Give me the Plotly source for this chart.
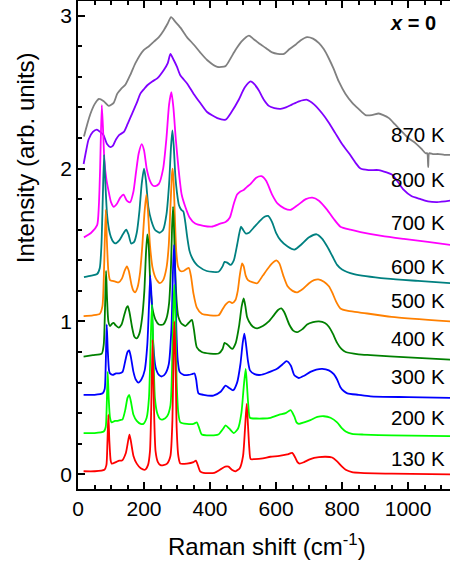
import plotly.graph_objects as go

# ---- data (Raman shift in cm-1, offset intensity) ----
temps = ["870 K", "800 K", "700 K", "600 K", "500 K", "400 K", "300 K", "200 K", "130 K"]
colors = ["#808080", "#8000ff", "#ff00ff", "#008080", "#ff8000", "#008000", "#0000ff", "#00ff00", "#ff0000"]

x_870 = [18, 28, 38, 50, 63, 78, 93, 108, 119, 130, 144, 160, 174, 199, 215, 230, 245, 260, 272, 282, 295, 311, 330, 351, 370, 391, 422, 447, 462, 477, 495, 518, 530, 548, 568, 588, 605, 624, 640, 659, 675, 694, 712, 730, 745, 760, 775, 790, 810, 831, 850, 871, 890, 911, 925, 942, 960, 982, 1000, 1023, 1040, 1053, 1058, 1061, 1064, 1075, 1093, 1110, 1128]
y_870 = [2.21, 2.29, 2.36, 2.42, 2.455, 2.44, 2.41, 2.43, 2.49, 2.52, 2.55, 2.62, 2.69, 2.775, 2.8, 2.83, 2.86, 2.905, 2.95, 2.99, 2.96, 2.92, 2.86, 2.81, 2.76, 2.71, 2.665, 2.67, 2.72, 2.775, 2.83, 2.87, 2.85, 2.82, 2.79, 2.76, 2.75, 2.75, 2.78, 2.81, 2.84, 2.86, 2.85, 2.82, 2.78, 2.72, 2.65, 2.57, 2.49, 2.43, 2.39, 2.35, 2.35, 2.36, 2.35, 2.33, 2.29, 2.24, 2.2, 2.165, 2.13, 2.1, 2.1, 2.01, 2.1, 2.095, 2.095, 2.09, 2.09]

x_800 = [17, 25, 32, 45, 57, 67, 77, 88, 98, 106, 115, 125, 139, 150, 164, 178, 189, 200, 210, 225, 240, 260, 272, 280, 290, 300, 310, 331, 350, 370, 391, 422, 447, 465, 487, 505, 523, 535, 548, 563, 578, 595, 614, 630, 649, 670, 694, 715, 740, 760, 780, 800, 821, 840, 856, 880, 911, 935, 952, 970, 987, 1010, 1038, 1060, 1088, 1128]
y_800 = [2.03, 2.12, 2.19, 2.24, 2.255, 2.24, 2.22, 2.16, 2.14, 2.15, 2.19, 2.22, 2.24, 2.29, 2.36, 2.43, 2.49, 2.52, 2.545, 2.57, 2.59, 2.645, 2.69, 2.75, 2.71, 2.665, 2.61, 2.555, 2.49, 2.43, 2.37, 2.33, 2.32, 2.37, 2.45, 2.53, 2.57, 2.55, 2.51, 2.45, 2.41, 2.395, 2.39, 2.40, 2.42, 2.44, 2.45, 2.42, 2.36, 2.3, 2.23, 2.16, 2.10, 2.04, 2.00, 1.99, 1.99, 1.975, 1.96, 1.91, 1.86, 1.82, 1.80, 1.785, 1.78, 1.79]

x_700 = [18, 40, 58, 63, 67, 72, 76, 80, 86, 92, 100, 108, 118, 128, 138, 148, 158, 168, 176, 184, 193, 200, 208, 218, 226, 234, 245, 258, 268, 276, 283, 289, 296, 305, 314, 325, 338, 355, 380, 405, 431, 447, 460, 472, 482, 492, 502, 512, 523, 540, 556, 570, 588, 605, 625, 644, 665, 690, 710, 730, 755, 775, 795, 825, 856, 920, 987, 1060, 1128]
y_700 = [1.55, 1.58, 1.63, 1.75, 2.0, 2.415, 2.25, 2.05, 1.93, 1.86, 1.78, 1.75, 1.77, 1.81, 1.83, 1.79, 1.78, 1.85, 1.98, 2.1, 2.16, 2.12, 2.0, 1.92, 1.89, 1.885, 1.9, 2.0, 2.2, 2.42, 2.50, 2.4, 2.2, 1.99, 1.83, 1.75, 1.68, 1.64, 1.625, 1.62, 1.64, 1.65, 1.68, 1.77, 1.83, 1.85, 1.86, 1.88, 1.90, 1.94, 1.95, 1.92, 1.83, 1.77, 1.74, 1.73, 1.76, 1.80, 1.81, 1.79, 1.73, 1.67, 1.62, 1.60, 1.585, 1.56, 1.54, 1.52, 1.50]

x_600 = [18, 40, 58, 66, 71, 75, 79, 83, 88, 94, 100, 107, 113, 125, 136, 146, 153, 161, 170, 178, 186, 193, 200, 206, 213, 222, 233, 247, 258, 268, 276, 282, 286, 290, 295, 300, 306, 313, 319, 325, 331, 338, 347, 356, 365, 390, 426, 438, 444, 452, 462, 472, 482, 489, 494, 500, 508, 518, 535, 552, 565, 576, 588, 600, 614, 635, 656, 675, 700, 723, 740, 755, 770, 785, 800, 836, 937, 1030, 1128]
y_600 = [1.29, 1.30, 1.31, 1.35, 1.5, 1.8, 2.09, 1.9, 1.7, 1.6, 1.55, 1.52, 1.51, 1.53, 1.57, 1.60, 1.57, 1.51, 1.52, 1.58, 1.72, 1.9, 2.0, 1.92, 1.75, 1.66, 1.6, 1.58, 1.6, 1.7, 1.9, 2.15, 2.25, 2.15, 1.95, 1.84, 1.76, 1.73, 1.72, 1.65, 1.55, 1.46, 1.41, 1.38, 1.36, 1.33, 1.325, 1.36, 1.39, 1.385, 1.37, 1.4, 1.5, 1.58, 1.62, 1.6, 1.575, 1.58, 1.62, 1.66, 1.685, 1.69, 1.65, 1.58, 1.53, 1.49, 1.47, 1.5, 1.55, 1.57, 1.54, 1.49, 1.43, 1.37, 1.34, 1.31, 1.28, 1.265, 1.25]

x_500 = [17, 45, 66, 74, 79, 84, 88, 92, 97, 105, 113, 123, 133, 141, 148, 154, 162, 168, 173, 180, 188, 195, 201, 207, 212, 218, 226, 236, 248, 258, 268, 275, 280, 285, 287, 290, 294, 298, 303, 310, 320, 330, 336, 342, 350, 360, 375, 400, 426, 438, 447, 458, 467, 477, 484, 490, 497, 502, 508, 515, 530, 543, 560, 573, 588, 601, 610, 622, 635, 650, 664, 680, 700, 715, 728, 745, 760, 770, 782, 795, 815, 851, 950, 1128]
y_500 = [1.035, 1.04, 1.05, 1.1, 1.35, 1.73, 1.5, 1.33, 1.27, 1.265, 1.26, 1.255, 1.28, 1.33, 1.36, 1.33, 1.24, 1.2, 1.19, 1.22, 1.32, 1.5, 1.7, 1.83, 1.72, 1.5, 1.35, 1.28, 1.25, 1.27, 1.35, 1.5, 1.75, 1.97, 2.0, 1.9, 1.65, 1.45, 1.36, 1.33, 1.33, 1.345, 1.35, 1.3, 1.18, 1.09, 1.05, 1.04, 1.04, 1.08, 1.11, 1.13, 1.12, 1.14, 1.2, 1.3, 1.38, 1.36, 1.3, 1.27, 1.255, 1.25, 1.3, 1.34, 1.38, 1.40, 1.38, 1.3, 1.23, 1.2, 1.19, 1.21, 1.25, 1.27, 1.275, 1.26, 1.23, 1.19, 1.13, 1.085, 1.07, 1.06, 1.03, 1.0]

x_400 = [17, 45, 72, 78, 82, 85, 88, 92, 97, 103, 108, 114, 123, 132, 140, 147, 151, 156, 164, 171, 178, 186, 194, 201, 206, 210, 214, 219, 226, 235, 245, 258, 268, 276, 282, 285, 288, 291, 295, 300, 304, 312, 325, 335, 345, 351, 360, 375, 400, 426, 438, 444, 452, 467, 478, 488, 496, 502, 507, 512, 518, 530, 543, 560, 578, 593, 606, 616, 625, 640, 652, 664, 680, 694, 712, 730, 748, 760, 772, 785, 798, 811, 850, 886, 1000, 1128]
y_400 = [0.77, 0.78, 0.79, 0.85, 1.1, 1.33, 1.15, 1.0, 0.97, 0.985, 0.99, 0.975, 0.96, 0.98, 1.04, 1.09, 1.10, 1.06, 0.96, 0.9, 0.89, 0.92, 1.02, 1.2, 1.45, 1.57, 1.5, 1.25, 1.08, 1.01, 0.98, 0.98, 1.02, 1.12, 1.38, 1.62, 1.75, 1.6, 1.3, 1.1, 1.03, 0.99, 0.97, 0.99, 1.01, 0.95, 0.83, 0.8, 0.79, 0.79, 0.82, 0.86, 0.85, 0.82, 0.86, 0.97, 1.1, 1.15, 1.1, 1.03, 1.00, 0.965, 0.955, 0.97, 1.0, 1.04, 1.075, 1.085, 1.06, 0.98, 0.94, 0.93, 0.95, 0.98, 0.995, 1.00, 0.99, 0.965, 0.92, 0.86, 0.82, 0.80, 0.785, 0.78, 0.765, 0.75]

x_300 = [17, 50, 75, 81, 84, 87, 90, 94, 97, 105, 115, 125, 135, 143, 150, 155, 160, 168, 175, 183, 192, 202, 210, 215, 219, 223, 228, 235, 245, 254, 265, 275, 283, 288, 291, 294, 298, 302, 308, 320, 335, 345, 353, 358, 365, 380, 410, 432, 447, 458, 470, 482, 492, 499, 504, 509, 515, 521, 535, 553, 575, 603, 620, 632, 645, 655, 669, 685, 704, 722, 740, 760, 775, 785, 795, 805, 816, 850, 886, 1000, 1128]
y_300 = [0.52, 0.52, 0.53, 0.56, 0.72, 0.98, 0.82, 0.68, 0.66, 0.65, 0.66, 0.66, 0.67, 0.74, 0.8, 0.81, 0.77, 0.67, 0.62, 0.60, 0.62, 0.68, 0.85, 1.1, 1.30, 1.15, 0.85, 0.7, 0.65, 0.64, 0.66, 0.72, 0.95, 1.35, 1.50, 1.35, 0.95, 0.75, 0.67, 0.65, 0.65, 0.655, 0.66, 0.62, 0.53, 0.52, 0.515, 0.54, 0.58, 0.565, 0.55, 0.6, 0.72, 0.86, 0.92, 0.85, 0.74, 0.68, 0.655, 0.65, 0.665, 0.69, 0.72, 0.74, 0.71, 0.65, 0.63, 0.645, 0.67, 0.685, 0.69, 0.68, 0.655, 0.62, 0.57, 0.545, 0.53, 0.52, 0.51, 0.505, 0.50]

x_200 = [17, 50, 78, 84, 87, 90, 93, 97, 102, 112, 120, 128, 135, 143, 150, 155, 160, 168, 178, 190, 198, 208, 215, 220, 224, 228, 233, 240, 250, 258, 270, 280, 285, 289, 292, 295, 299, 304, 310, 330, 350, 360, 366, 375, 390, 425, 440, 447, 458, 472, 485, 495, 502, 508, 512, 516, 521, 540, 560, 583, 610, 629, 644, 655, 662, 669, 685, 704, 725, 745, 765, 785, 800, 811, 830, 866, 950, 1128]
y_200 = [0.27, 0.27, 0.28, 0.31, 0.45, 0.67, 0.5, 0.37, 0.34, 0.35, 0.35, 0.355, 0.36, 0.42, 0.5, 0.52, 0.48, 0.39, 0.35, 0.33, 0.33, 0.37, 0.5, 0.85, 1.11, 0.85, 0.5, 0.4, 0.36, 0.36, 0.38, 0.45, 0.7, 1.1, 1.24, 1.05, 0.6, 0.4, 0.34, 0.33, 0.33, 0.34, 0.31, 0.26, 0.255, 0.26, 0.3, 0.32, 0.3, 0.27, 0.3, 0.4, 0.57, 0.69, 0.58, 0.45, 0.37, 0.365, 0.365, 0.37, 0.39, 0.40, 0.42, 0.38, 0.34, 0.33, 0.34, 0.355, 0.375, 0.38, 0.37, 0.34, 0.3, 0.28, 0.265, 0.26, 0.255, 0.25]

x_130 = [17, 50, 80, 86, 89, 92, 95, 99, 102, 115, 125, 133, 145, 152, 156, 160, 168, 178, 190, 203, 212, 218, 222, 226, 230, 235, 242, 250, 259, 270, 280, 286, 290, 292, 295, 299, 304, 310, 330, 350, 357, 363, 370, 380, 413, 430, 446, 456, 466, 477, 490, 500, 506, 511, 515, 519, 523, 535, 560, 583, 610, 634, 649, 658, 665, 671, 685, 704, 730, 750, 770, 785, 800, 811, 830, 856, 950, 1128]
y_130 = [0.02, 0.02, 0.03, 0.06, 0.2, 0.39, 0.22, 0.09, 0.07, 0.08, 0.09, 0.09, 0.14, 0.22, 0.26, 0.22, 0.12, 0.07, 0.04, 0.03, 0.06, 0.15, 0.45, 0.88, 0.45, 0.15, 0.08, 0.06, 0.06, 0.07, 0.12, 0.35, 0.85, 1.0, 0.8, 0.3, 0.12, 0.07, 0.07, 0.08, 0.09, 0.06, 0.02, 0.01, 0.01, 0.03, 0.05, 0.05, 0.03, 0.02, 0.04, 0.12, 0.3, 0.46, 0.32, 0.17, 0.10, 0.1, 0.105, 0.115, 0.12, 0.13, 0.14, 0.11, 0.08, 0.07, 0.08, 0.10, 0.112, 0.115, 0.11, 0.085, 0.05, 0.03, 0.015, 0.01, 0.005, 0.0]

xs = [x_870, x_800, x_700, x_600, x_500, x_400, x_300, x_200, x_130]
ys = [y_870, y_800, y_700, y_600, y_500, y_400, y_300, y_200, y_130]

FONT = "Liberation Sans, Arial, sans-serif"

fig = go.Figure()
for t, c, xv, yv in zip(temps, colors, xs, ys):
    fig.add_trace(go.Scatter(x=xv, y=yv, mode="lines", name=t,
                             line=dict(color=c, width=1.8, shape="spline", smoothing=0.6),
                             showlegend=False, hoverinfo="skip"))

# temperature labels at the right
label_y = [2.226, 1.928, 1.647, 1.358, 1.135, 0.889, 0.640, 0.370, 0.103]
annotations = []
for t, ly in zip(temps, label_y):
    annotations.append(dict(text=t, xref="paper", x=0.991, xanchor="right",
                            yref="y", y=ly, yanchor="middle", showarrow=False,
                            font=dict(family=FONT, size=20.5, color="black")))
annotations.append(dict(text="<b><i>x</i> = 0</b>", xref="paper", x=0.968, xanchor="right",
                        yref="y", y=2.949, yanchor="middle", showarrow=False,
                        font=dict(family=FONT, size=20, color="black")))
annotations.append(dict(text="Intensity (arb. units)", xref="paper", x=-0.1425, xanchor="center",
                        yref="paper", y=0.680, yanchor="middle", textangle=-90, showarrow=False,
                        font=dict(family=FONT, size=24, color="black")))
annotations.append(dict(text="Raman shift (cm<sup>-1</sup>)", xref="paper", x=0.508, xanchor="center",
                        yref="paper", y=-0.115, yanchor="middle", showarrow=False,
                        font=dict(family=FONT, size=24, color="black")))

fig.update_layout(
    width=450, height=567,
    margin=dict(l=78, r=0, t=1, b=78),
    paper_bgcolor="white", plot_bgcolor="white",
    annotations=annotations,
    font=dict(family=FONT, color="black"),
)
fig.update_xaxes(range=[0, 1127], tickmode="linear", tick0=0, dtick=200,
                 ticks="inside", ticklen=7, tickwidth=1.5, tickcolor="black",
                 minor=dict(dtick=50, ticks="inside", ticklen=4, tickwidth=1.5, tickcolor="black"),
                 showline=True, linewidth=1.5, linecolor="black", mirror="allticks",
                 showgrid=False, zeroline=False, tickfont=dict(family=FONT, size=21, color="black"))
fig.update_yaxes(range=[-0.096, 3.096], tickmode="linear", tick0=0, dtick=1,
                 ticks="inside", ticklen=7, tickwidth=1.5, tickcolor="black",
                 minor=dict(dtick=0.2, ticks="inside", ticklen=4, tickwidth=1.5, tickcolor="black"),
                 showline=True, linewidth=1.5, linecolor="black", mirror=False,
                 showgrid=False, zeroline=False, tickfont=dict(family=FONT, size=21, color="black"))

fig.write_html("out.html")
